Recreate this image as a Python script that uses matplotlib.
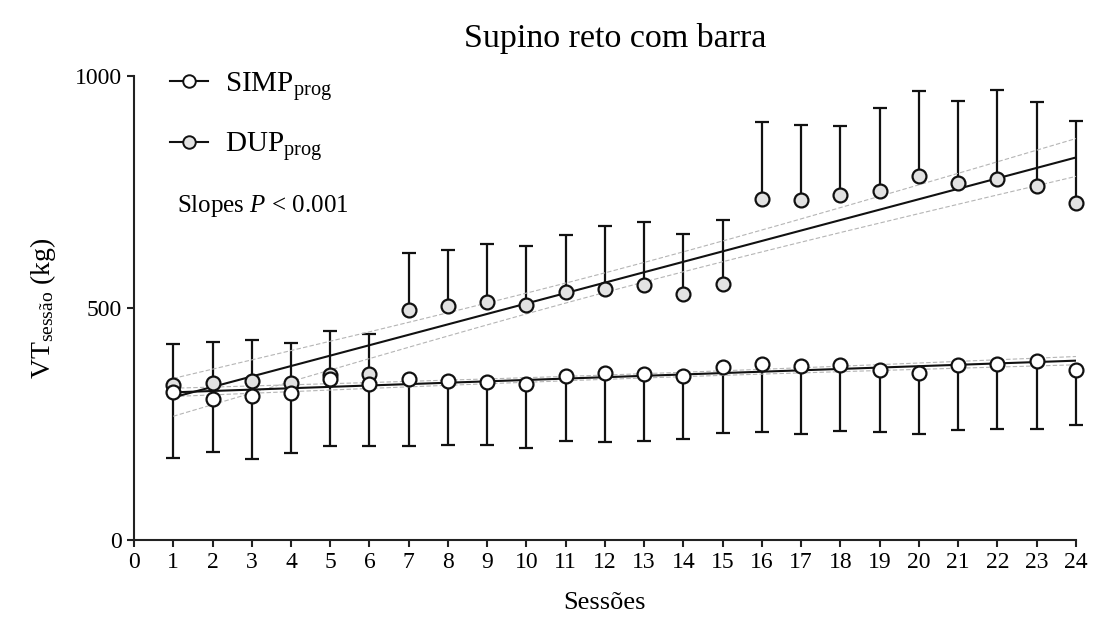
import numpy as np
import matplotlib.pyplot as plt

plt.rcParams['font.family'] = ['Liberation Serif', 'DejaVu Serif']
plt.rcParams['mathtext.fontset'] = 'custom'
plt.rcParams['mathtext.rm'] = 'Liberation Serif'
plt.rcParams['mathtext.it'] = 'Liberation Serif:italic'

sessions = np.arange(1, 25)

# SIMPprog: mean and SD (error bar drawn downward)
simp_mean = [319, 303, 310, 316, 348, 336, 346, 342, 340, 336, 353, 359,
             357, 354, 373, 379, 376, 377, 366, 359, 377, 379, 386, 366]
simp_sd = [142, 113, 135, 129, 145, 133, 143, 138, 135, 138, 140, 148,
           144, 136, 143, 146, 148, 141, 133, 130, 139, 139, 147, 119]

# DUPprog: mean and SD (error bar drawn upward)
dup_mean = [334, 338, 343, 338, 356, 358, 495, 505, 514, 506, 535, 542,
            550, 530, 552, 735, 733, 744, 753, 784, 770, 777, 764, 727]
dup_sd = [89, 89, 89, 87, 95, 85, 123, 119, 125, 128, 122, 135,
          136, 129, 137, 166, 161, 149, 179, 183, 176, 193, 181, 175]

T95 = 2.074  # t(0.975, df=22)


def fit_band(x, y):
    x = np.asarray(x, float)
    y = np.asarray(y, float)
    b, a = np.polyfit(x, y, 1)
    yhat = a + b * x
    s = np.sqrt(np.sum((y - yhat) ** 2) / (len(x) - 2))
    xs = np.linspace(x.min(), x.max(), 200)
    fit = a + b * xs
    se = s * np.sqrt(1.0 / len(x) + (xs - x.mean()) ** 2 / np.sum((x - x.mean()) ** 2))
    return xs, fit, fit - T95 * se, fit + T95 * se


fig = plt.figure(figsize=(10.94, 6.19), dpi=100)
ax = fig.add_axes([0.1225, 0.1276, 0.861, 0.7496])

ink = '#111111'

for mean, sd, face, up, z in [(dup_mean, dup_sd, '#e2e2e2', True, 3),
                              (simp_mean, simp_sd, 'white', False, 4)]:
    zeros = np.zeros(len(sd))
    yerr = [zeros, sd] if up else [sd, zeros]
    ax.errorbar(sessions, mean, yerr=yerr, fmt='none', ecolor=ink,
                elinewidth=1.6, capsize=4.7, capthick=1.6, zorder=2, clip_on=False)
    xs, fit, lo, hi = fit_band(sessions, mean)
    ax.plot(xs, fit, color=ink, lw=1.5, zorder=2.5)
    ax.plot(xs, lo, color='#b5b5b5', lw=0.8, ls=(0, (4, 2)), zorder=2.4)
    ax.plot(xs, hi, color='#b5b5b5', lw=0.8, ls=(0, (4, 2)), zorder=2.4)
    ax.plot(sessions, mean, ls='none', marker='o', ms=10, mfc=face,
            mec=ink, mew=1.6, zorder=z, clip_on=False)

# legend handles
h1, = ax.plot([], [], color=ink, lw=1.5, marker='o', ms=9, mfc='white', mec=ink, mew=1.4)
h2, = ax.plot([], [], color=ink, lw=1.5, marker='o', ms=9, mfc='#e2e2e2', mec=ink, mew=1.4)
leg = ax.legend([h1, h2], [r'SIMP$_{\mathregular{prog}}$', r'DUP$_{\mathregular{prog}}$'],
                loc='upper left', bbox_to_anchor=(0.01, 1.07), frameon=False,
                fontsize=21, handlelength=1.3, handletextpad=0.6, labelspacing=0.95)

ax.text(0.046, 0.72, r'Slopes $\mathit{P}$ < 0.001', transform=ax.transAxes,
        fontsize=18, va='center', ha='left')

ax.set_xlim(0, 24)
ax.set_ylim(0, 1000)
ax.set_xticks(range(0, 25))
ax.set_yticks([0, 500, 1000])
for side in ['top', 'right']:
    ax.spines[side].set_visible(False)
for side in ['left', 'bottom']:
    ax.spines[side].set_linewidth(1.5)
    ax.spines[side].set_color('#222222')
ax.tick_params(axis='both', direction='out', length=5, width=1.5,
               labelsize=17, color='#222222')

fig.text(615 / 1094, 1 - 38 / 619, 'Supino reto com barra', fontsize=24.5,
         ha='center', va='center')
ax.set_xlabel('Sessões', fontsize=19, labelpad=14)
ax.set_ylabel(r'VT$_{\mathregular{sessão}}$ (kg)', fontsize=20, labelpad=12)

fig.savefig('out.png', dpi=100)
